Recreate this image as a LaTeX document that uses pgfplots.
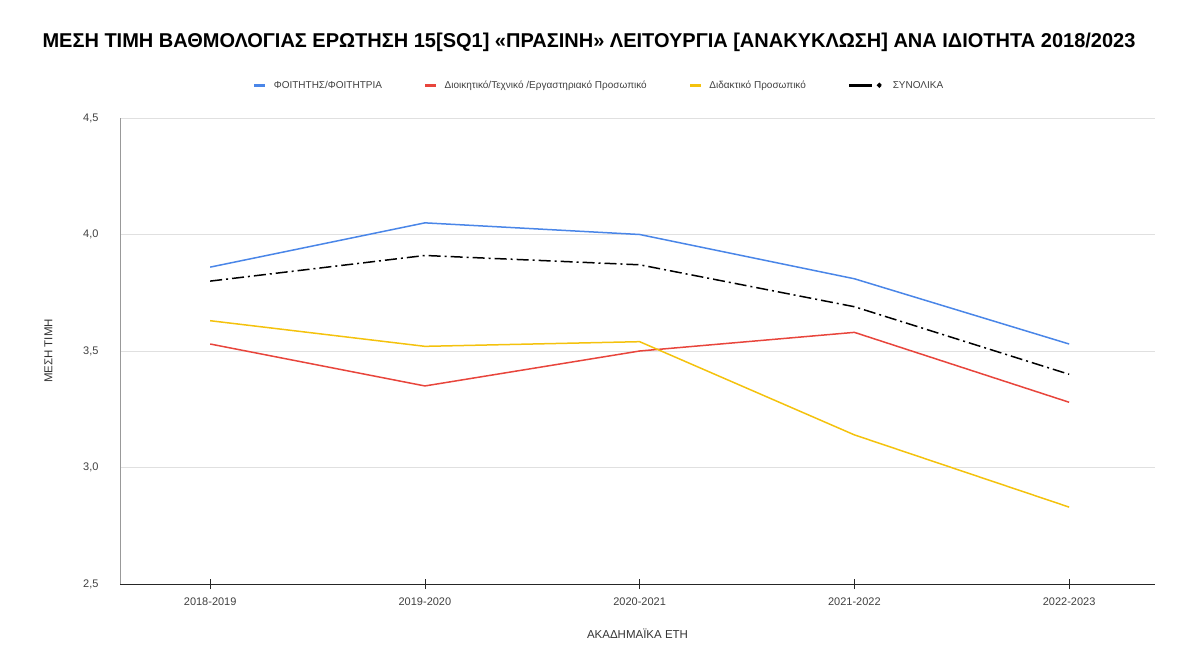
\documentclass[border=0pt]{standalone}
\usepackage{pgfplots}
\pgfplotsset{compat=1.18}
\usepackage{fontspec}
\setmainfont{Liberation Sans}
\definecolor{gblue}{HTML}{4A86E8}
\definecolor{gred}{HTML}{E8453C}
\definecolor{gyellow}{HTML}{F4C20D}
\begin{document}
\begin{tikzpicture}
\path[use as bounding box] (0pt,0pt) rectangle (1180pt,657pt);
\node[font=\fontsize{20}{23}\selectfont\bfseries, anchor=center] at (589pt,615pt) {ΜΕΣΗ ΤΙΜΗ ΒΑΘΜΟΛΟΓΙΑΣ ΕΡΩΤΗΣΗ 15[SQ1] «ΠΡΑΣΙΝΗ» ΛΕΙΤΟΥΡΓΙΑ [ΑΝΑΚΥΚΛΩΣΗ] ΑΝΑ ΙΔΙΟΤΗΤΑ 2018/2023};
\begin{axis}[
  at={(120pt,73pt)}, anchor=south west,
  scale only axis, width=1035pt, height=466pt,
  xmin=-0.42, xmax=4.4, ymin=2.5, ymax=4.5,
  xtick={0,1,2,3,4},
  xticklabels={2018-2019,2019-2020,2020-2021,2021-2022,2022-2023},
  ytick={2.5,3,3.5,4,4.5},
  /pgf/number format/assume math mode=true,
  /pgf/number format/use comma, /pgf/number format/fixed, /pgf/number format/fixed zerofill, /pgf/number format/precision=1,
  tick label style={font=\fontsize{11}{13}\selectfont, text=black!75},
  xticklabel style={yshift=-5pt},
  yticklabel style={xshift=-18pt},
  axis x line*=bottom, axis y line*=left,
  separate axis lines,
  x axis line style={black!85, line width=1pt, -},
  y axis line style={black!40, line width=0.8pt, -},
  xtick style={black!85, line width=0.8pt},
  xtick align=center, major tick length=10pt,
  ytick style={draw=none},
  ymajorgrids, grid style={black!12, line width=0.6pt},
  xlabel={ΑΚΑΔΗΜΑΪΚΑ ΕΤΗ}, ylabel={ΜΕΣΗ ΤΙΜΗ},
  label style={font=\fontsize{11.5}{13}\selectfont, text=black!80},
  xlabel style={yshift=-17pt},
  ylabel style={yshift=24pt},
  legend style={at={(0.463,1.0)}, anchor=south, yshift=24pt, draw=none, fill=none,
    legend columns=4, font=\fontsize{10}{12}\selectfont, text=black!75,
    /tikz/every odd column/.append style={column sep=5pt},
    /tikz/every even column/.append style={column sep=40pt}},
  legend image code/.code={\draw[#1, line width=2.6pt] (0pt,0pt) -- (11pt,0pt);},
]
\addplot[gblue, line width=1.5pt] coordinates {(0,3.86) (1,4.05) (2,4.00) (3,3.81) (4,3.53)};
\addlegendentry{ΦΟΙΤΗΤΗΣ/ΦΟΙΤΗΤΡΙΑ}
\addplot[gred, line width=1.5pt] coordinates {(0,3.53) (1,3.35) (2,3.50) (3,3.58) (4,3.28)};
\addlegendentry{Διοικητικό/Τεχνικό /Εργαστηριακό Προσωπικό}
\addplot[gyellow, line width=1.5pt] coordinates {(0,3.63) (1,3.52) (2,3.54) (3,3.14) (4,2.83)};
\addlegendentry{Διδακτικό Προσωπικό}
\addplot[black, line width=1.5pt, dash pattern=on 12pt off 4pt on 2pt off 4pt,
  legend image code/.code={\draw[black, line width=2.8pt, solid] (-12pt,0pt) -- (11pt,0pt); \fill[black] (18pt,0pt) circle (1.7pt);}] coordinates {(0,3.80) (1,3.91) (2,3.87) (3,3.69) (4,3.40)};
\addlegendentry{\hspace{4pt}ΣΥΝΟΛΙΚΑ}
\end{axis}
\end{tikzpicture}
\end{document}
